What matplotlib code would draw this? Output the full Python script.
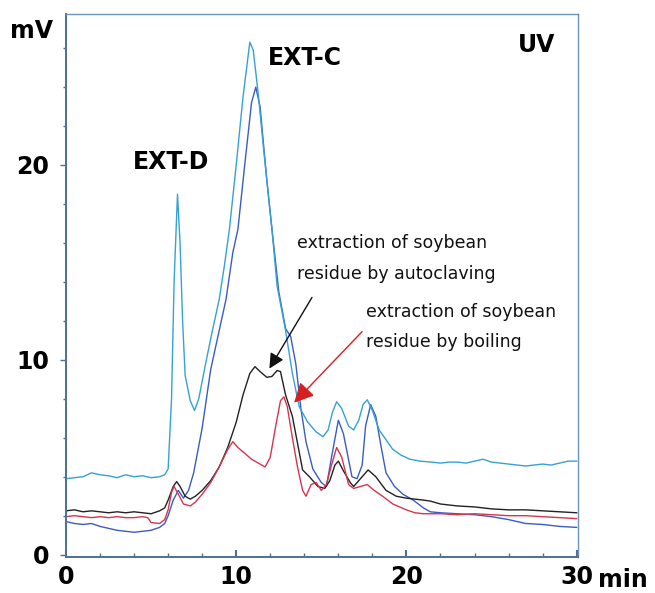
import matplotlib
matplotlib.use("Agg")
import matplotlib.pyplot as plt
from matplotlib.ticker import MultipleLocator

# ---- data ----
t_lb = [0, 0.5, 1, 1.5, 2, 2.5, 3, 3.5, 4, 4.5, 5, 5.5, 5.8, 6.0, 6.2, 6.35, 6.55, 6.7, 6.85, 7.0, 7.3, 7.55,
        7.8, 8.2, 8.6, 9.0, 9.3, 9.6, 10.0, 10.4, 10.8, 11.0, 11.3, 11.6, 12.1, 12.4, 12.9, 13.3, 13.7, 14.2,
        14.7, 15.1, 15.4, 15.65, 15.9, 16.2, 16.6, 16.9, 17.2, 17.45, 17.7, 18.0, 18.4, 18.8, 19.2, 19.7,
        20.2, 20.8, 21.5, 22, 22.5, 23, 23.5, 24, 24.5, 25, 25.5, 26, 26.5, 27, 27.5, 28, 28.5, 29, 29.5, 30]
y_lb = [3.9, 3.95, 4.0, 4.2, 4.1, 4.05, 3.95, 4.1, 4.0, 4.05, 3.95, 4.0, 4.1, 4.4, 8.0, 14.0, 18.5, 16.0, 12.0,
        9.2, 7.9, 7.4, 8.0, 9.8, 11.5, 13.1, 14.8, 16.7, 20.0, 23.5, 26.3, 25.9, 23.6, 20.9, 16.7, 13.8, 11.5,
        9.3, 7.6, 6.8, 6.3, 6.05, 6.4, 7.3, 7.85, 7.5, 6.6, 6.4, 6.9, 7.7, 7.95, 7.4, 6.4, 5.9, 5.4, 5.1,
        4.9, 4.8, 4.75, 4.7, 4.75, 4.75, 4.7, 4.8, 4.9, 4.75, 4.7, 4.65, 4.6, 4.55, 4.6, 4.65, 4.6, 4.7, 4.8, 4.8]

t_b = [0, 0.5, 1, 1.5, 2, 2.5, 3, 3.5, 4, 4.5, 5, 5.5, 5.8, 6.0, 6.3, 6.6, 6.9, 7.2, 7.5, 8.0, 8.5, 9.0, 9.4,
       9.8, 10.1, 10.5, 10.9, 11.15, 11.4, 11.8, 12.1, 12.5, 12.9, 13.2, 13.5, 13.8, 14.1, 14.5, 15.0, 15.3,
       15.6, 16.0, 16.3, 16.8, 17.1, 17.4, 17.6, 17.9, 18.2, 18.5, 18.8, 19.3, 19.8, 20.4, 21.0, 21.4, 22, 23,
       24, 25, 26, 27, 28, 29, 30]
y_b = [1.7, 1.6, 1.55, 1.6, 1.45, 1.35, 1.25, 1.2, 1.15, 1.2, 1.25, 1.4, 1.6, 2.0, 2.8, 3.3, 2.9, 3.3, 4.2,
       6.5, 9.5, 11.5, 13.1, 15.5, 16.7, 20.0, 23.2, 24.0, 23.0, 19.2, 16.7, 13.5, 11.6, 11.2, 9.8, 7.5,
       5.8, 4.4, 3.7, 3.5, 5.0, 6.9, 6.2, 4.0, 3.9, 4.6, 6.6, 7.7, 7.1, 5.6, 4.2, 3.5, 3.1, 2.8, 2.4, 2.2,
       2.15, 2.1, 2.05, 1.95, 1.8, 1.6, 1.55, 1.45, 1.4]

t_k = [0, 0.5, 1, 1.5, 2, 2.5, 3, 3.5, 4, 4.5, 5, 5.5, 5.8, 6.0, 6.3, 6.5, 6.7, 7.0, 7.3, 7.6, 8.0, 8.5, 9.0,
       9.5, 10.0, 10.4, 10.8, 11.1, 11.4, 11.8, 12.1, 12.4, 12.6, 12.9, 13.3, 13.9, 14.3, 14.8, 15.2, 15.5,
       15.8, 16.0, 16.3, 16.7, 16.9, 17.3, 17.75, 18.2, 18.8, 19.4, 20.0, 21.0, 21.4, 22, 23, 24, 25, 26,
       27, 28, 29, 30]
y_k = [2.25, 2.3, 2.2, 2.25, 2.2, 2.15, 2.2, 2.15, 2.2, 2.15, 2.1, 2.25, 2.4, 2.8, 3.5, 3.75, 3.5, 3.0, 2.85,
       3.0, 3.3, 3.8, 4.5, 5.5, 6.8, 8.2, 9.3, 9.65, 9.4, 9.1, 9.15, 9.45, 9.4, 8.2, 7.1, 4.35, 4.0, 3.5,
       3.4, 3.8, 4.6, 4.8, 4.3, 3.7, 3.5, 3.9, 4.35, 4.0, 3.3, 3.0, 2.9, 2.8, 2.75, 2.6, 2.5, 2.45, 2.35,
       2.3, 2.3, 2.25, 2.2, 2.15]

t_r = [0, 0.5, 1, 1.5, 2, 2.5, 3, 3.5, 4, 4.5, 4.8, 5.0, 5.5, 5.8, 6.0, 6.2, 6.35, 6.6, 6.9, 7.3, 7.6, 8.0,
       8.5, 9.0, 9.5, 9.8, 10.1, 10.5, 10.9, 11.3, 11.7, 12.0, 12.3, 12.6, 12.8, 13.0, 13.3, 13.6, 13.9,
       14.1, 14.4, 14.7, 15.0, 15.3, 15.6, 15.9, 16.2, 16.6, 16.9, 17.3, 17.7, 18.1, 18.6, 19.2, 20.0, 20.5,
       21, 22, 23, 24, 25, 26, 27, 28, 29, 30]
y_r = [1.95, 2.0, 1.95, 1.9, 1.95, 1.9, 1.95, 1.9, 1.9, 1.95, 1.9, 1.65, 1.6, 1.8, 2.3, 3.2, 3.5, 3.1, 2.6,
       2.5, 2.7, 3.1, 3.7, 4.5, 5.4, 5.8, 5.5, 5.2, 4.9, 4.7, 4.5, 5.0, 6.5, 7.9, 8.1, 7.6, 6.0, 4.5, 3.3,
       3.0, 3.6, 3.7, 3.3, 3.6, 4.6, 5.5, 5.0, 3.6, 3.4, 3.5, 3.6, 3.3, 3.0, 2.6, 2.3, 2.15, 2.1, 2.1, 2.05,
       2.1, 2.05, 2.0, 2.0, 1.95, 1.9, 1.85]

x_major = [0, 10, 20, 30]
y_major = [0, 10, 20]

# ---- figure ----
W, H = 655, 593
fig = plt.figure(figsize=(W / 100, H / 100), dpi=100)
ax = fig.add_axes([66 / W, 1 - 557 / H, (578 - 66) / W, (557 - 14) / H])

ax.plot(t_b, y_b, color="#3a5cc4", lw=1.0)
ax.plot(t_lb, y_lb, color="#35a2d4", lw=1.0)
ax.plot(t_k, y_k, color="#222222", lw=1.0)
ax.plot(t_r, y_r, color="#d8344f", lw=1.0)

ax.set_xlim(0, 30.08)
ax.set_ylim(-0.12, 27.75)
ax.set_xticks(x_major)
ax.set_yticks(y_major)
ax.xaxis.set_minor_locator(MultipleLocator(2))
ax.yaxis.set_minor_locator(MultipleLocator(2))
ax.set_xticklabels([str(v) for v in x_major])
ax.set_yticklabels([str(v) for v in y_major])

for s in ax.spines.values():
    s.set_color("#6c93b8")
    s.set_linewidth(1.0)
ax.spines["left"].set_color("#4f7090")
ax.spines["bottom"].set_color("#4f7090")
ax.spines["left"].set_linewidth(1.4)
ax.spines["bottom"].set_linewidth(1.4)

ax.tick_params(axis="y", which="major", direction="out", length=4, width=1, color="#4f7090", pad=8,
               labelsize=17)
ax.tick_params(axis="y", which="minor", direction="out", length=2, width=1, color="#4f7090")
ax.tick_params(axis="x", which="major", direction="in", length=5, width=1.5, color="#4f7090", pad=6,
               labelsize=17)
ax.tick_params(axis="x", which="minor", direction="in", length=3, width=1, color="#4f7090")
for lab in ax.get_xticklabels() + ax.get_yticklabels():
    lab.set_fontweight("bold")

def ftext(x, y, s, **kw):
    fig.text(x / W, 1 - y / H, s, **kw)

bold = dict(fontsize=17, fontweight="bold", color="black", va="center")
ftext(10, 31, "mV", ha="left", **bold)
ftext(598, 580, "min", ha="left", **bold)
ftext(518, 45, "UV", ha="left", **bold)
ftext(268, 58, "EXT-C", ha="left", **bold)
ftext(133, 162, "EXT-D", ha="left", **bold)

narrow = dict(fontsize=12.5, color="#111111", va="center", ha="left", family="DejaVu Sans")
ftext(297, 243, "extraction of soybean", **narrow)
ftext(297, 274, "residue by autoclaving", **narrow)
ftext(366, 312, "extraction of soybean", **narrow)
ftext(366, 342, "residue by boiling", **narrow)

ax.annotate("", xy=(11.95, 9.55), xytext=(14.45, 13.2),
            arrowprops=dict(arrowstyle="-|>,head_length=0.9,head_width=0.45", color="#111111", lw=1.0,
                            shrinkA=0, shrinkB=0))
ax.annotate("", xy=(13.4, 7.8), xytext=(17.4, 11.45),
            arrowprops=dict(arrowstyle="-|>,head_length=1.2,head_width=0.6", color="#d62020", lw=1.0,
                            shrinkA=0, shrinkB=0))

fig.savefig("out.png", dpi=100)
